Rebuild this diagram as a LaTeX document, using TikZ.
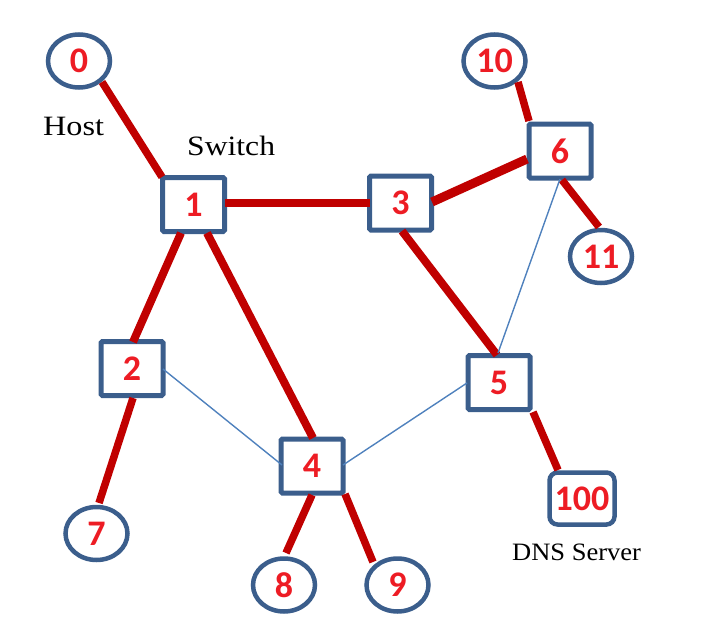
\documentclass[tikz,border=0pt]{standalone}
\usepackage{fontspec}
\setmainfont{Liberation Serif}
\newfontfamily\numfont{Carlito}
\usetikzlibrary{shapes.geometric}
\definecolor{nodeblue}{RGB}{59,94,140}
\definecolor{linkred}{RGB}{192,0,0}
\definecolor{textred}{RGB}{237,28,36}
\definecolor{thinblue}{RGB}{79,129,189}
\tikzset{
  numtext/.style={text=textred, font=\numfont\bfseries\fontsize{36}{36}\selectfont},
  hostnode/.style={ellipse, draw=nodeblue, line width=4.5pt, minimum width=62pt, minimum height=53pt, inner sep=0pt, numtext},
  switchnode/.style={rectangle, draw=nodeblue, line width=5pt, rounded corners=1.5pt, minimum width=62pt, minimum height=54pt, inner sep=0pt, numtext},
  servernode/.style={rectangle, draw=nodeblue, line width=4.5pt, rounded corners=8pt, minimum width=65pt, minimum height=52pt, inner sep=0pt, numtext},
  redlink/.style={draw=linkred, line width=7.5pt},
  thicklink/.style={draw=linkred, line width=9pt},
  bluelink/.style={draw=thinblue, line width=1.4pt},
  caption/.style={anchor=base west, inner sep=0pt, text=black},
}
\begin{document}
\begin{tikzpicture}[x=1pt,y=-1pt]
\useasboundingbox (0,0) rectangle (702,640);
% nodes
\node[hostnode] (n0) at (79,61) {0};
\node[hostnode] (n10) at (494.5,61) {10};
\node[hostnode] (n11) at (601,256.5) {11};
\node[hostnode] (n7) at (96.5,533.5) {7};
\node[hostnode] (n8) at (284,585) {8};
\node[hostnode] (n9) at (397.5,585) {9};
\node[switchnode] (n1) at (193.5,204.5) {1};
\node[switchnode] (n2) at (132,368.5) {2};
\node[switchnode] (n3) at (400.5,203) {3};
\node[switchnode] (n4) at (312,466) {4};
\node[switchnode] (n5) at (499,382.5) {5};
\node[switchnode] (n6) at (560,151) {6};
\node[servernode] (n100) at (582,498.5) {100};
% captions
\node[caption, font=\fontsize{28}{28}\selectfont] (host) at (43,135) {\scalebox{1.15}[1]{Host}};
\node[caption, font=\fontsize{28}{28}\selectfont] (switch) at (187,155) {\scalebox{1.13}[1]{Switch}};
\node[caption, font=\fontsize{25}{25}\selectfont] (dns) at (512,560) {\scalebox{1.06}[1]{DNS Server}};
% red links
\draw[redlink] ([shift={(23,21)}]n0.center) -- ([shift={(-31.5,-27.5)}]n1.center);
\draw[redlink, line width=8pt] ([shift={(31.5,-1.5)}]n1.center) -- ([shift={(-30.5,0)}]n3.center);
\draw[thicklink] ([shift={(31.5,-1)}]n3.center) -- ([shift={(-33,8)}]n6.center);
\draw[redlink, line width=8pt] ([shift={(1.5,28)}]n3.center) -- ([shift={(-2,-27.5)}]n5.center);
\draw[redlink] ([shift={(23.5,21)}]n10.center) -- ([shift={(-31,-30)}]n6.center);
\draw[redlink] ([shift={(2,29)}]n6.center) -- ([shift={(-2,-29.5)}]n11.center);
\draw[redlink, line width=8pt] ([shift={(-12.5,28.5)}]n1.center) -- ([shift={(1,-26.5)}]n2.center);
\draw[redlink, line width=8pt] ([shift={(13.5,28.5)}]n1.center) -- ([shift={(1,-28)}]n4.center);
\draw[redlink] ([shift={(1,29.5)}]n2.center) -- ([shift={(2.5,-30.5)}]n7.center);
\draw[redlink] ([shift={(0,29)}]n4.center) -- ([shift={(2,-32)}]n8.center);
\draw[redlink] ([shift={(33,28)}]n4.center) -- ([shift={(-24.5,-23)}]n9.center);
\draw[redlink] ([shift={(34,29.5)}]n5.center) -- ([shift={(-24,-28.5)}]n100.center);
% thin blue links
\draw[bluelink] ([shift={(0,28)}]n6.center) -- ([shift={(-1,-29.5)}]n5.center);
\draw[bluelink] ([shift={(31,0.5)}]n2.center) -- ([shift={(-30,-1)}]n4.center);
\draw[bluelink] ([shift={(31,-1)}]n4.center) -- ([shift={(-32,0.5)}]n5.center);
\end{tikzpicture}
\end{document}
